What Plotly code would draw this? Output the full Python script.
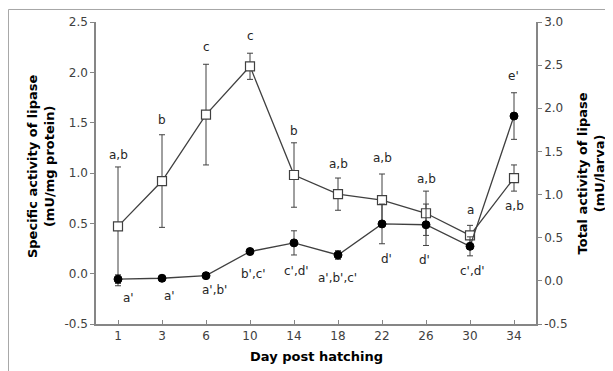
import plotly.graph_objects as go

days = ["1", "3", "6", "10", "14", "18", "22", "26", "30", "34"]

specific = [0.47, 0.92, 1.58, 2.06, 0.98, 0.79, 0.73, 0.60, 0.38, 0.95]
specific_err = [0.59, 0.46, 0.50, 0.13, 0.32, 0.16, 0.26, 0.22, 0.10, 0.13]
specific_labels = ["a,b", "b", "c", "c", "b", "a,b", "a,b", "a,b", "a", "a,b"]
specific_label_y = [1.18, 1.53, 2.25, 2.36, 1.42, 1.09, 1.15, 0.94, 0.63, 0.67]

total = [0.02, 0.03, 0.06, 0.34, 0.44, 0.30, 0.66, 0.65, 0.40, 1.91]
total_err = [0.05, 0.03, 0.03, 0.03, 0.14, 0.05, 0.23, 0.24, 0.11, 0.27]
total_labels = ["a'", "a'", "a',b'", "b',c'", "c',d'", "a',b',c'", "d'", "d'", "c',d'", "e'"]
total_label_y = [-0.20, -0.17, -0.11, 0.085, 0.12, 0.03, 0.25, 0.24, 0.12, 2.38]
total_label_dx = [10, 7, 8, 3, 2, -1, 4, -2, 2, -1]

left_tickvals = [-0.5, 0.0, 0.5, 1.0, 1.5, 2.0, 2.5]
left_ticktext = ["-0.5", "0.0", "0.5", "1.0", "1.5", "2.0", "2.5"]
right_tickvals = [-0.5, 0.0, 0.5, 1.0, 1.5, 2.0, 2.5, 3.0]
right_ticktext = ["-0.5", "0.0", "0.5", "1.0", "1.5", "2.0", "2.5", "3.0"]

FONT = "DejaVu Sans"
LINE = "#404040"
AX = "#868686"

fig = go.Figure()

fig.add_trace(go.Scatter(
    x=days, y=total, yaxis="y2", mode="lines+markers",
    line=dict(color=LINE, width=1.3),
    marker=dict(symbol="circle", size=8, color="black", line=dict(color="black", width=1)),
    error_y=dict(type="data", array=total_err, visible=True, color=LINE, thickness=1, width=3),
    showlegend=False,
))

fig.add_trace(go.Scatter(
    x=days, y=specific, mode="lines+markers",
    line=dict(color=LINE, width=1.3),
    marker=dict(symbol="square", size=9, color="white", line=dict(color=LINE, width=1.2)),
    error_y=dict(type="data", array=specific_err, visible=True, color=LINE, thickness=1, width=3),
    showlegend=False,
))

annotations = []
for i, (t, yv) in enumerate(zip(specific_labels, specific_label_y)):
    annotations.append(dict(x=i, y=yv, xref="x", yref="y", text=t, showarrow=False,
                            font=dict(family=FONT, size=12, color="#262626")))
for i, (t, yv, dx) in enumerate(zip(total_labels, total_label_y, total_label_dx)):
    annotations.append(dict(x=i, y=yv, xref="x", yref="y2", text=t, showarrow=False, xshift=dx,
                            font=dict(family=FONT, size=12, color="#262626")))

annotations.append(dict(x=-0.125, y=0.523, xref="paper", yref="paper", textangle=-90,
                        xanchor="center", yanchor="middle",
                        text="<b>Specific activity of lipase<br>(mU/mg protein)</b>",
                        showarrow=False, font=dict(family=FONT, size=13, color="black")))
annotations.append(dict(x=1.126, y=0.50, xref="paper", yref="paper", textangle=-90,
                        xanchor="center", yanchor="middle",
                        text="<b>Total activity of lipase<br>(mU/larva)</b>",
                        showarrow=False, font=dict(family=FONT, size=13, color="black")))
annotations.append(dict(x=0.5, y=-0.108, xref="paper", yref="paper",
                        text="<b>Day post hatching</b>", xanchor="center", yanchor="middle",
                        showarrow=False, font=dict(family=FONT, size=13, color="black")))

fig.update_layout(
    width=613, height=371,
    margin=dict(l=88, r=85, t=14, b=55, autoexpand=False),
    paper_bgcolor="white", plot_bgcolor="white",
    font=dict(family=FONT, size=12, color="#404040"),
    xaxis=dict(type="category", range=[-0.5, 9.5], showgrid=False, zeroline=False,
               showline=True, linecolor=AX, linewidth=1.5, automargin=False,
               ticks="inside", ticklen=4, tickcolor=AX,
               tickfont=dict(family=FONT, size=12, color="#404040")),
    yaxis=dict(range=[-0.5, 2.5], tickmode="array", tickvals=left_tickvals, ticktext=left_ticktext,
               showgrid=False, zeroline=False,
               showline=True, linecolor=AX, linewidth=1.5, automargin=False,
               ticks="outside", ticklen=4, tickcolor=AX,
               tickfont=dict(family=FONT, size=12, color="#404040")),
    yaxis2=dict(range=[-0.5, 3.0], tickmode="array", tickvals=right_tickvals, ticktext=right_ticktext,
                overlaying="y", side="right",
                showgrid=False, zeroline=False, automargin=False,
                showline=True, linecolor=AX, linewidth=1.5,
                ticks="outside", ticklen=4, tickcolor=AX,
                tickfont=dict(family=FONT, size=12, color="#404040")),
    annotations=annotations,
    shapes=[dict(type="rect", xref="paper", yref="paper", x0=-0.1989, y0=-0.3, x1=1.3, y1=1.0414,
                 line=dict(color="#a6a6a6", width=1), layer="below")],
)

fig.write_html("out.html")
